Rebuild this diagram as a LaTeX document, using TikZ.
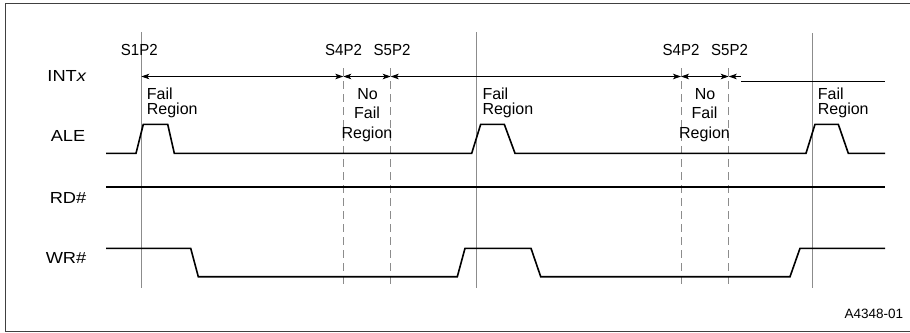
\documentclass[tikz,border=0pt]{standalone}
\usepackage{fontspec}
\setmainfont{Liberation Sans}
\newfontfamily\widesans[FakeStretch=1.14]{Liberation Sans}
\newfontfamily\narrowsans[FakeStretch=0.94]{Liberation Sans}
\usetikzlibrary{arrows.meta}
\begin{document}
\begin{tikzpicture}[x=1pt,y=-1pt,
  >={Stealth[length=8pt,width=5.5pt,inset=2pt]},
  lbl/.style={font=\fontsize{16}{19}\selectfont, inner sep=0pt},
  signame/.style={font=\widesans\fontsize{16}{19}\selectfont, inner sep=0pt, anchor=base east},
  statelbl/.style={font=\narrowsans\fontsize{16}{19}\selectfont, inner sep=0pt, anchor=base},
  small/.style={font=\fontsize{13.5}{15}\selectfont, inner sep=0pt},
  frameline/.style={draw=black!75, line width=1pt},
  vsolid/.style={draw=black!45, line width=0.9pt},
  vdash/.style={draw=black!45, line width=0.9pt, dash pattern=on 8pt off 5pt},
  sig/.style={draw=black, line width=1.6pt},
  arr/.style={draw=black, line width=0.9pt}]
\useasboundingbox (0,0) rectangle (910,332);
% frame (right side runs off the picture)
\coordinate (fr1) at (910,3);
\coordinate (fr2) at (5,3);
\coordinate (fr3) at (5,331);
\coordinate (fr4) at (910,331);
\draw[frameline] (fr1) -- (fr2) -- (fr3) -- (fr4);
% vertical markers
\coordinate (s1t) at (141.3,32);  \coordinate (s1b) at (141.3,288);
\coordinate (s2t) at (476.7,32);  \coordinate (s2b) at (476.7,288);
\coordinate (s3t) at (812,33);    \coordinate (s3b) at (812,288);
\coordinate (d1t) at (343.3,68);  \coordinate (d1b) at (343.3,288);
\coordinate (d2t) at (390.7,68);  \coordinate (d2b) at (390.7,288);
\coordinate (d3t) at (681,68);    \coordinate (d3b) at (681,288);
\coordinate (d4t) at (728.7,68);  \coordinate (d4b) at (728.7,288);
\draw[vsolid] (s1t) -- (s1b);
\draw[vsolid] (s2t) -- (s2b);
\draw[vsolid] (s3t) -- (s3b);
\draw[vdash] (d1t) -- (d1b);
\draw[vdash] (d2t) -- (d2b);
\draw[vdash] (d3t) -- (d3b);
\draw[vdash] (d4t) -- (d4b);
% signal names
\node[signame] (intx) at (86.7,81.7) {INT\textit{x}};
\node[signame] (ale) at (85.5,141.7) {ALE};
\node[signame] (rd) at (86.5,203.3) {RD\#};
\node[signame] (wr) at (86.5,263.5) {WR\#};
% state labels
\node[statelbl] (s1p2) at (139.3,55) {S1P2};
\node[statelbl] (s4a) at (343.5,55) {S4P2};
\node[statelbl] (s5a) at (392,55) {S5P2};
\node[statelbl] (s4b) at (681,55) {S4P2};
\node[statelbl] (s5b) at (729.5,55) {S5P2};
% INTx arrows
\coordinate (a1) at (141.3,76.5);
\coordinate (a2) at (343.3,76.5);
\coordinate (a3) at (390.7,76.5);
\coordinate (a5) at (681,76.5);
\coordinate (a6) at (728.7,76.5);
\coordinate (a7) at (741,76.5);
\coordinate (b1) at (741,81.7);
\coordinate (b2) at (885,81.7);
\draw[arr, <->] (a1) -- (a2);
\draw[arr, <->] (a2) -- (a3);
\draw[arr, <->] (a3) -- (a5);
\draw[arr, <->] (a5) -- (a6);
\draw[arr, <-] (a6) -- (a7);
\draw[arr] (b1) -- (b2);
% region labels
\node[lbl, anchor=base west] (f1a) at (146.7,99.3) {Fail};
\node[lbl, anchor=base west] (f1b) at (146.7,114.5) {Region};
\node[lbl, anchor=base west] (f2a) at (482.3,99.3) {Fail};
\node[lbl, anchor=base west] (f2b) at (482.3,114.5) {Region};
\node[lbl, anchor=base west] (f3a) at (817.7,99.3) {Fail};
\node[lbl, anchor=base west] (f3b) at (817.7,114.5) {Region};
\node[lbl, anchor=base] (n1a) at (367.5,99.3) {No};
\node[lbl, anchor=base] (n1b) at (367,118.8) {Fail};
\node[lbl, anchor=base] (n1c) at (367,138) {Region};
\node[lbl, anchor=base] (n2a) at (705,99.3) {No};
\node[lbl, anchor=base] (n2b) at (704.5,118.8) {Fail};
\node[lbl, anchor=base] (n2c) at (704.5,138) {Region};
% waveforms
\draw[sig] (106,153.3) -- (136,153.3) -- (143.3,124.3) -- (167.7,124.3) -- (174.3,153.3)
  -- (471.7,153.3) -- (480.7,124.3) -- (504.3,124.3) -- (515,153.3)
  -- (806,153.3) -- (815,124.3) -- (838.3,124.3) -- (848.3,153.3) -- (885,153.3);
\draw[sig] (106,186.7) -- (885,186.7);
\draw[sig] (106,248.3) -- (190.7,248.3) -- (198.3,276.7) -- (457.3,276.7) -- (465,248.3)
  -- (531,248.3) -- (540.7,276.7) -- (790,276.7) -- (800,248.3) -- (885,248.3);
% figure id
\node[small, anchor=base east] (fid) at (903.3,318.3) {A4348-01};
\end{tikzpicture}
\end{document}
